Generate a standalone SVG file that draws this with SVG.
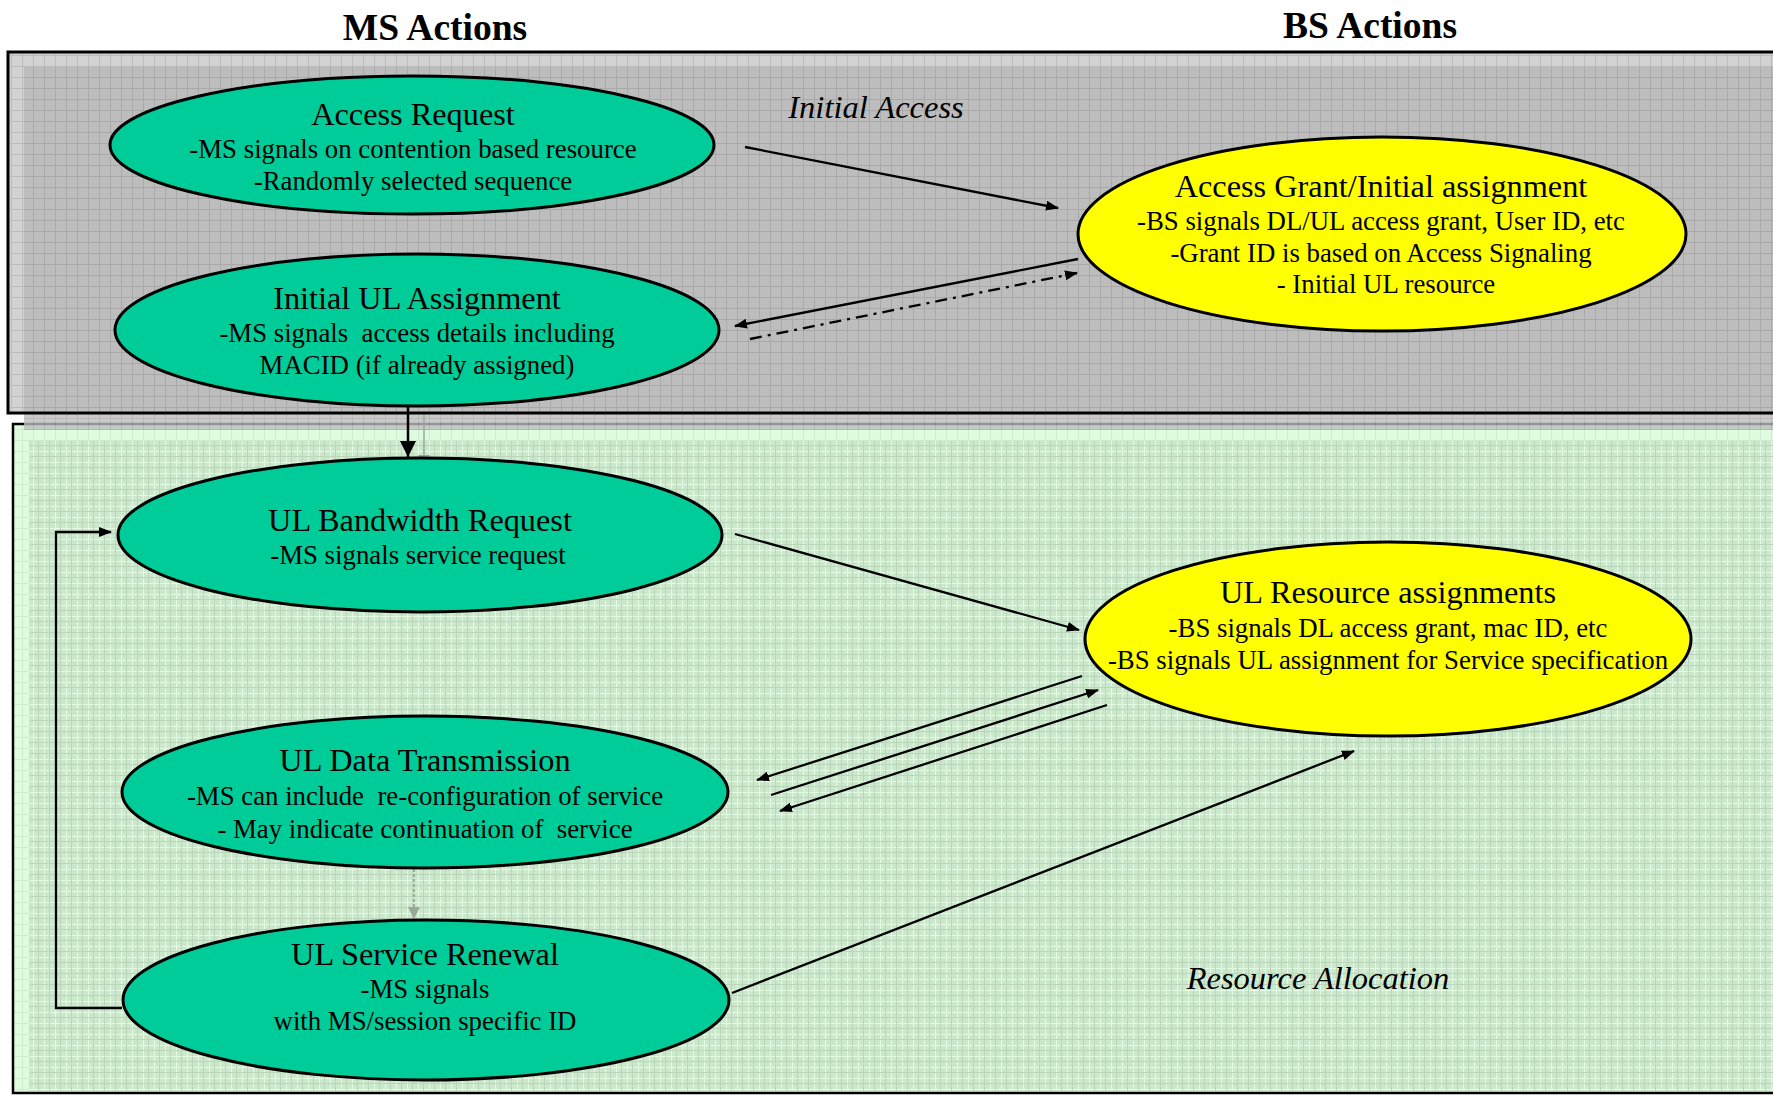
<svg xmlns="http://www.w3.org/2000/svg" width="1773" height="1095" viewBox="0 0 1773 1095">
<style>
.node ellipse{stroke:#000;stroke-width:3}
.teal{fill:#00cc99}
.yel{fill:#ffff00}
text{font-family:"Liberation Serif","Times New Roman",serif;fill:#000;text-anchor:middle;white-space:pre}
.t{font-size:32.3px}
.b{font-size:26.8px}
.hdr{font-size:37.5px;font-weight:bold}
.lbl{font-size:32.5px;font-style:italic}
.c{fill:none;stroke:#000;stroke-width:2.3}
</style>
<defs>
<pattern id="pGrayBand" width="11" height="11" patternUnits="userSpaceOnUse">
<rect width="11" height="11" fill="#d2d2d2"/>
<path d="M0,0.5H11M0.5,0V11" stroke="#bcbcbc" stroke-width="1"/>
</pattern>
<pattern id="pGray" width="11" height="11" patternUnits="userSpaceOnUse">
<rect width="11" height="11" fill="#bdbdbd"/>
<path d="M0,0.5H11M0.5,0V11" stroke="#a9a9a9" stroke-width="1"/>
</pattern>
<pattern id="pGreenBand" width="11" height="11" patternUnits="userSpaceOnUse">
<rect width="11" height="11" fill="#e0fce0"/>
<path d="M0,0.5H11M0.5,0V11" stroke="#cdeccd" stroke-width="1"/>
</pattern>
<pattern id="pGreen" width="11" height="11" patternUnits="userSpaceOnUse">
<rect width="11" height="11" fill="#cce8cc"/>
<path d="M0,0.5H11M0.5,0V11" stroke="#e2fbe2" stroke-width="1"/>
<path d="M0,5.5H11M5.5,0V11" stroke="#bcd6bc" stroke-width="1"/>
</pattern>
<marker id="ah" markerUnits="userSpaceOnUse" markerWidth="13" markerHeight="10" refX="12" refY="5" orient="auto">
<path d="M0,0L13,5L0,10z" fill="#000"/>
</marker>
<marker id="ahBig" markerUnits="userSpaceOnUse" markerWidth="16" markerHeight="16" refX="16" refY="8" orient="auto">
<path d="M0,0L16,8L0,16z" fill="#000"/>
</marker>
<marker id="ahGray" markerUnits="userSpaceOnUse" markerWidth="12" markerHeight="12" refX="12" refY="6" orient="auto">
<path d="M0,0L12,6L0,12z" fill="#9aa89a"/>
</marker>
</defs>
<rect width="1773" height="1095" fill="#fff"/>

<g id="resource-allocation-panel">
<rect x="13" y="424" width="1780" height="669" fill="url(#pGreenBand)"/>
<rect x="29" y="441" width="1760" height="650" fill="url(#pGreen)"/>
<rect x="13" y="424" width="1780" height="669" fill="none" stroke="#000" stroke-width="2.5"/>
</g>

<g id="initial-access-panel">
<rect x="8" y="52" width="1780" height="361" fill="url(#pGrayBand)"/>
<rect x="24" y="67" width="1760" height="346" fill="url(#pGray)"/>
<rect x="24" y="413" width="1760" height="17" fill="url(#pGray)" opacity="0.8"/>
<rect x="8" y="52" width="1780" height="361" fill="none" stroke="#000" stroke-width="3"/>
</g>

<g id="headers">
<text class="hdr" x="435" y="40">MS Actions</text>
<text class="hdr" x="1370" y="38">BS Actions</text>
<text class="lbl" x="876" y="118">Initial Access</text>
<text class="lbl" x="1318" y="989">Resource Allocation</text>
</g>

<g id="connectors">
<line class="c" x1="745" y1="147" x2="1058" y2="208" marker-end="url(#ah)"/>
<line class="c" x1="1078" y1="259" x2="735" y2="326" marker-end="url(#ah)"/>
<line class="c" x1="750" y1="339" x2="1077" y2="273" stroke-dasharray="12,6,3,6" marker-end="url(#ah)"/>
<line x1="408" y1="404" x2="408" y2="457" stroke="#000" stroke-width="2.5" marker-end="url(#ahBig)"/>
<line x1="424" y1="415" x2="424" y2="467" stroke="#9aa89a" stroke-width="1.5" marker-end="url(#ahGray)"/>
<line class="c" x1="735" y1="534" x2="1079" y2="630" marker-end="url(#ah)"/>
<line class="c" x1="1082" y1="676" x2="757" y2="780" marker-end="url(#ah)"/>
<line class="c" x1="771" y1="795" x2="1098" y2="690" marker-end="url(#ah)"/>
<line class="c" x1="1107" y1="705" x2="780" y2="811" marker-end="url(#ah)"/>
<line class="c" x1="732" y1="993" x2="1354" y2="751" marker-end="url(#ah)"/>
<line x1="414" y1="869" x2="414" y2="919" stroke="#8a9a8a" stroke-width="1.5" stroke-dasharray="3,2" marker-end="url(#ahGray)"/>
<polyline class="c" points="122,1008 56,1008 56,532 111,532" marker-end="url(#ah)"/>
</g>

<g id="access-request" class="node">
<ellipse class="teal" cx="412" cy="145" rx="302" ry="69"/>
<text class="t" x="413" y="125">Access Request</text>
<text class="b" x="413" y="158">-MS signals on contention based resource</text>
<text class="b" x="413" y="190">-Randomly selected sequence</text>
</g>

<g id="initial-ul-assignment" class="node">
<ellipse class="teal" cx="417" cy="330" rx="302" ry="76"/>
<text class="t" x="417" y="309">Initial UL Assignment</text>
<text class="b" x="417" y="342">-MS signals  access details including</text>
<text class="b" x="417" y="374">MACID (if already assigned)</text>
</g>

<g id="access-grant" class="node">
<ellipse class="yel" cx="1382" cy="234" rx="304" ry="97"/>
<text class="t" x="1381" y="197">Access Grant/Initial assignment</text>
<text class="b" x="1381" y="230">-BS signals DL/UL access grant, User ID, etc</text>
<text class="b" x="1381" y="262">-Grant ID is based on Access Signaling</text>
<text class="b" x="1386" y="293">- Initial UL resource</text>
</g>

<g id="ul-bandwidth-request" class="node">
<ellipse class="teal" cx="420" cy="535" rx="302" ry="77"/>
<text class="t" x="420" y="531">UL Bandwidth Request</text>
<text class="b" x="418" y="564">-MS signals service request</text>
</g>

<g id="ul-resource-assignments" class="node">
<ellipse class="yel" cx="1388" cy="639" rx="303" ry="97"/>
<text class="t" x="1388" y="603">UL Resource assignments</text>
<text class="b" x="1388" y="637">-BS signals DL access grant, mac ID, etc</text>
<text class="b" x="1388" y="669">-BS signals UL assignment for Service specification</text>
</g>

<g id="ul-data-transmission" class="node">
<ellipse class="teal" cx="425" cy="792" rx="303" ry="76"/>
<text class="t" x="425" y="771">UL Data Transmission</text>
<text class="b" x="425" y="805">-MS can include  re-configuration of service</text>
<text class="b" x="425" y="838">- May indicate continuation of  service</text>
</g>

<g id="ul-service-renewal" class="node">
<ellipse class="teal" cx="426" cy="1000" rx="303" ry="80"/>
<text class="t" x="425" y="965">UL Service Renewal</text>
<text class="b" x="425" y="998">-MS signals</text>
<text class="b" x="425" y="1030">with MS/session specific ID</text>
</g>
</svg>
